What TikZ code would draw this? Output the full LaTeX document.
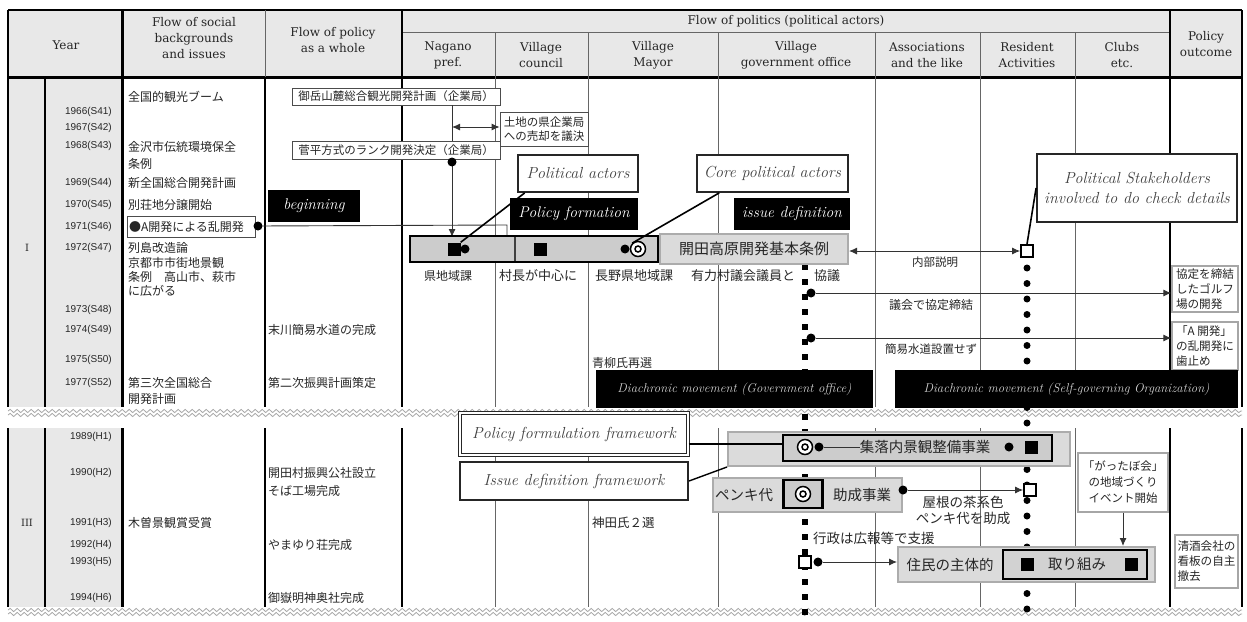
\documentclass[tikz,border=0pt]{standalone}
\usepackage{fontspec}
\newfontfamily\jp{Noto Sans CJK JP}
\newfontfamily\yrf{Liberation Sans}
\newfontfamily\hdf{DejaVu Serif}
\usetikzlibrary{arrows.meta,decorations.pathmorphing,calc}
\tikzset{
 hdr/.style={font=\hdf\fontsize{12}{16}\selectfont, align=center, inner sep=0, text=black!85},
 jt/.style={font=\jp\fontsize{12}{15}\selectfont, inner sep=0, anchor=west, text=black!85},
 jb/.style={font=\jp\fontsize{14.5}{16}\selectfont, inner sep=0, text=black!85},
 yr/.style={font=\yrf\fontsize{10}{11}\selectfont, inner sep=0, anchor=east, text=black!85},
 callout/.style={draw=black!85, line width=1.8, fill=white, font=\itshape\fontsize{16}{20}\selectfont, text=black!75, inner sep=0, align=center},
 blk/.style={fill=black, text=white, font=\itshape\fontsize{15.5}{17}\selectfont, inner sep=0},
 dia/.style={fill=black, text=gray!35, font=\itshape\fontsize{12.8}{14}\selectfont, inner sep=0},
 pbox/.style={draw=black!70, line width=0.8, fill=white, font=\jp\fontsize{11.5}{14}\selectfont, inner sep=0, align=center, text=black!85},
 obox/.style={draw=gray!70, line width=1.2, fill=white, font=\jp\fontsize{11.6}{15}\selectfont, inner sep=0, align=left, text=black!85},
 gbox/.style={draw=gray!65, line width=2, fill=gray!28, inner sep=0},
 kbox/.style={draw=black, line width=2.4, fill=gray!40, inner sep=0},
 bsq/.style={fill=black, minimum size=12, inner sep=0},
 wsq/.style={draw=black, line width=1.8, fill=white, minimum size=12, inner sep=0},
 bdot/.style={circle, fill=black, minimum size=9, inner sep=0},
 ring/.style={circle, draw=black, line width=1.5, fill=white, minimum size=15, inner sep=0},
 ringin/.style={circle, draw=black, line width=1.5, minimum size=6, inner sep=0},
 conn/.style={line width=0.9, black!80},
 arr/.style={conn, -{Latex[length=8,width=7]}},
 darr/.style={conn, {Latex[length=8,width=7]}-{Latex[length=8,width=7]}},
 tl/.style={line width=0.7, black!60},
 thk/.style={line width=2.2, black},
 rlab/.style={font=\jp\fontsize{13}{15}\selectfont, inner sep=0, text=black!85},
 wav/.style={gray!70, line width=0.8, decorate, decoration={snake, amplitude=1.6, segment length=7}},
}
\begin{document}
\begin{tikzpicture}[x=1pt,y=-1pt]
\useasboundingbox (0,0) rectangle (1247,621);
% ---------- table backgrounds
\fill[gray!18] (8,10) rectangle (1242,77);
\fill[gray!18] (8,77) rectangle (122,407);
\fill[gray!18] (8,428) rectangle (122,607);
% ---------- header lines
\draw[thk] (8,10) -- (1242,10);
\draw[line width=3] (8,77) -- (1242,77);
\draw[tl] (402,32) -- (1170,32);
\draw[thk] (8,10) -- (8,77);
\draw[line width=3] (122,10) -- (122,77);
\draw[tl] (265,10) -- (265,77);
\draw[thk] (402,10) -- (402,77);
\foreach \x in {495,588,718,875,980,1075} \draw[tl] (\x,32) -- (\x,77);
\draw[thk] (1170,10) -- (1170,77);
\draw[thk] (1242,10) -- (1242,77);
% ---------- body lines
\foreach \ya/\yb in {77/407,428/607}{
  \draw[thk] (8,\ya) -- (8,\yb);
  \draw[thk] (45,\ya) -- (45,\yb);
  \draw[line width=3] (122,\ya) -- (122,\yb);
  \draw[line width=1.6] (265,\ya) -- (265,\yb);
  \draw[line width=1.8] (402,\ya) -- (402,\yb);
  \foreach \x in {495,588,718,875,980,1075} \draw[tl] (\x,\ya) -- (\x,\yb);
  \draw[thk] (1170,\ya) -- (1170,\yb);
  \draw[thk] (1242,\ya) -- (1242,\yb);
}
\draw[wav] (8,411) -- (1242,411);
\draw[wav] (8,415) -- (1242,415);
\draw[wav] (8,610) -- (1242,610);
\draw[wav] (8,614) -- (1242,614);
% ---------- header texts
\node[hdr] (hY) at (66,45) {Year};
\node[hdr] (hS) at (194,38) {Flow of social\\backgrounds\\and issues};
\node[hdr] (hP) at (333,40) {Flow of policy\\as a whole};
\node[hdr] (hF) at (786,21) {Flow of politics (political actors)};
\node[hdr] (hN) at (448,55) {Nagano\\pref.};
\node[hdr] (hC) at (541,55) {Village\\council};
\node[hdr] (hM) at (653,55) {Village\\Mayor};
\node[hdr] (hG) at (796,55) {Village\\government office};
\node[hdr] (hA) at (927,55) {Associations\\and the like};
\node[hdr] (hR) at (1027,55) {Resident\\Activities};
\node[hdr] (hCl) at (1122,55) {Clubs\\etc.};
\node[hdr] (hO) at (1206,44) {Policy\\outcome};
% ---------- periods and years
\node[hdr, font=\hdf\fontsize{10}{11}\selectfont] (pI) at (27,248) {I};
\node[hdr, font=\hdf\fontsize{10}{11}\selectfont] (pIII) at (27,523) {III};
\node[yr] (y1) at (112,112) {1966(S41)};
\node[yr] (y2) at (112,128) {1967(S42)};
\node[yr] (y3) at (112,146) {1968(S43)};
\node[yr] (y4) at (112,183) {1969(S44)};
\node[yr] (y5) at (112,205) {1970(S45)};
\node[yr] (y6) at (112,227) {1971(S46)};
\node[yr] (y7) at (112,248) {1972(S47)};
\node[yr] (y8) at (112,310) {1973(S48)};
\node[yr] (y9) at (112,330) {1974(S49)};
\node[yr] (y10) at (112,360) {1975(S50)};
\node[yr] (y11) at (112,383) {1977(S52)};
\node[yr] (y12) at (112,437) {1989(H1)};
\node[yr] (y13) at (112,473) {1990(H2)};
\node[yr] (y14) at (112,523) {1991(H3)};
\node[yr] (y15) at (112,545) {1992(H4)};
\node[yr] (y16) at (112,562) {1993(H5)};
\node[yr] (y17) at (112,598) {1994(H6)};
% ---------- social backgrounds column
\node[jt] (s1) at (128,97) {全国的観光ブーム};
\node[jt] (s2) at (128,147) {金沢市伝統環境保全};
\node[jt] (s3) at (128,164) {条例};
\node[jt] (s4) at (128,183) {新全国総合開発計画};
\node[jt] (s5) at (128,205) {別荘地分譲開始};
\node[pbox, font=\jp\fontsize{12}{14}\selectfont, minimum width=128, minimum height=21, text width=124, align=left] (sA) at (191,227) {●A開発による乱開発};
\node[jt] (s6) at (128,248) {列島改造論};
\node[jt] (s7) at (128,263) {京都市市街地景観};
\node[jt] (s8) at (128,277) {条例\quad 高山市、萩市};
\node[jt] (s9) at (128,291) {に広がる};
\node[jt] (s10) at (128,383) {第三次全国総合};
\node[jt] (s11) at (128,399) {開発計画};
\node[jt] (s12) at (128,523) {木曽景観賞受賞};
% ---------- policy column
\node[jt] (p1) at (268,330) {末川簡易水道の完成};
\node[jt] (p2) at (268,383) {第二次振興計画策定};
\node[jt] (p3) at (268,473) {開田村振興公社設立};
\node[jt] (p4) at (268,491) {そば工場完成};
\node[jt] (p5) at (268,545) {やまゆり荘完成};
\node[jt] (p6) at (268,598) {御嶽明神奥社完成};
% ---------- dotted actor lines
\draw[line width=6, dash pattern=on 6 off 9] (805,264) -- (805,620);
\draw[line width=7, line cap=round, dash pattern=on 0 off 15.5, black] (1027,268) -- (1027,612);
% ---------- upper policy boxes and connectors
\node[pbox, minimum width=208, minimum height=17] (b1) at (396,96.5) {御岳山麓総合観光開発計画（企業局）};
\coordinate (v1) at (452,105);
\coordinate (v1e) at (452,237);
\draw[arr] (v1) -- (v1e);
\node[pbox, minimum width=208, minimum height=18] (b3) at (396,150) {菅平方式のランク開発決定（企業局）};
\node[bdot] (d0) at (452,162) {};
\node[pbox, minimum width=88, minimum height=34] (b2) at (544,129.5) {土地の県企業局\\への売却を議決};
\coordinate (ha) at (452,127);
\draw[darr] (ha) -- (ha -| b2.west);
\node[bdot] (dA) at (258,226) {};
\coordinate (bend1) at (507,225);
\coordinate (tip1) at (507,247);
\draw[arr] (dA) -- (bend1) -- (tip1);
% ---------- black labels
\node[blk, minimum width=92, minimum height=32] (beg) at (314,206) {beginning};
\node[blk, minimum width=128, minimum height=32] (pf) at (574,214) {Policy formation};
\node[blk, minimum width=116, minimum height=32] (idf) at (792,214) {issue definition};
% ---------- grey bar of policy formation
\node[kbox, minimum width=248, minimum height=26] (gL) at (534,249) {};
\draw[line width=1.2, black!75] (515,237) -- (515,261);
\node[gbox, minimum width=188, minimum height=30, font=\jp\fontsize{15}{16}\selectfont, text=black!85] (gR) at (754,249) {開田高原開発基本条例};
\node[bsq, minimum size=13] (sqA) at (454,249) {};
\node[bdot] (dsA) at (465,249) {};
\node[bsq, minimum size=13] (sqB) at (540,249) {};
\node[bdot] (dsC) at (625,249) {};
\node[ring] (rC) at (638,249) {};
\node[ringin] (rCi) at (638,249) {};
% ---------- callouts
\node[callout, minimum width=120, minimum height=37] (PA) at (578,173.5) {Political actors};
\node[callout, minimum width=151, minimum height=37] (CPA) at (772.5,173.5) {Core political actors};
\node[callout, minimum width=200, minimum height=68] (PS) at (1137,188) {Political Stakeholders\\involved to do check details};
\draw[line width=1.6] (PA.200) -- (sqA.north east);
\draw[line width=1.6] (CPA.200) -- (rC.north west);
\node[wsq] (osq) at (1027,251) {};
\draw[line width=1.6] (PS.west) -- (osq.north);
\draw[darr] (gR.east |- osq) -- (osq.west);
\node[rlab, font=\jp\fontsize{11.5}{14}\selectfont] (l1) at (935,262) {内部説明};
% ---------- row labels under bar
\node[rlab, font=\jp\fontsize{12}{14}\selectfont] (r1) at (448,276) {県地域課};
\node[rlab] (r2) at (538,276) {村長が中心に};
\node[rlab] (r3) at (634,276) {長野県地域課};
\node[rlab] (r4) at (743,276) {有力村議会議員と};
\node[rlab] (r5) at (827,276) {協議};
% ---------- outcomes part I
\node[obox, minimum width=66, minimum height=46] (O1) at (1205,289) {協定を締結\\したゴルフ\\場の開発};
\node[obox, minimum width=66, minimum height=48] (O2) at (1205,346) {「A 開発」\\の乱開発に\\歯止め};
\node[bdot] (e1) at (811,293) {};
\node[bdot] (e2) at (811,338) {};
\draw[arr] (e1) -- (e1 -| O1.west);
\draw[arr] (e2) -- (e2 -| O2.west);
\node[rlab, font=\jp\fontsize{12}{14}\selectfont] (l2) at (931,305) {議会で協定締結};
\node[rlab, font=\jp\fontsize{11.5}{14}\selectfont] (l3) at (931,349) {簡易水道設置せず};
\node[jt] (m1) at (592,363) {青柳氏再選};
\node[dia, minimum width=277, minimum height=38] (DG) at (734.5,389) {Diachronic movement (Government office)};
\node[dia, minimum width=343, minimum height=38] (DS) at (1066.5,389) {Diachronic movement (Self-governing Organization)};
% ---------- part III frameworks
\node[callout, double, double distance=2, line width=1.3, minimum width=228, minimum height=42] (PFF) at (574,434) {Policy formulation framework};
\node[callout, line width=2, minimum width=228, minimum height=38] (IDF) at (574,481) {Issue definition framework};
\node[gbox, minimum width=342, minimum height=34] (SB) at (899,449) {};
\node[kbox, minimum width=269, minimum height=26] (SBi) at (917.5,448) {};
\draw[line width=1.4] (PFF.-5) -- (PFF.-5 -| SBi.west);
\draw[line width=1.4] (IDF.east) -- (SB.south west);
\node[jb] (tSB) at (925,447) {集落内景観整備事業};
\node[ring] (rS) at (805,447) {};
\node[ringin] (rSi) at (805,447) {};
\node[bdot] (dS1) at (819,447) {};
\draw[conn] (dS1) -- (tSB.west);
\node[bdot] (dS2) at (1009,447) {};
\node[bsq, minimum size=13] (sqS) at (1031,447) {};
% ---------- paint subsidy
\node[gbox, minimum width=189, minimum height=34] (PK) at (807.5,495) {};
\node[jb] (tPK1) at (744,495) {ペンキ代};
\node[draw=black, line width=2.4, fill=gray!40, minimum width=39, minimum height=28, inner sep=0] (PKs) at (803,494) {};
\node[ring] (rP) at (803,494) {};
\node[ringin] (rPi) at (803,494) {};
\node[jb] (tPK2) at (862,495) {助成事業};
\node[bdot] (dP) at (903,490) {};
\node[wsq] (osq2) at (1030,490) {};
\draw[arr] (dP) -- (osq2.west);
\node[rlab, align=center, font=\jp\fontsize{13.5}{16}\selectfont] (l4) at (963,510) {屋根の茶系色\\ペンキ代を助成};
\node[jt, font=\jp\fontsize{13.5}{15}\selectfont] (l5) at (813,538) {行政は広報等で支援};
\node[jt, font=\jp\fontsize{12.5}{15}\selectfont] (m2) at (592,523) {神田氏２選};
% ---------- residents
\node[gbox, minimum width=257, minimum height=35] (JU) at (1026.5,564.5) {};
\node[jb] (tJU) at (950,565) {住民の主体的};
\node[kbox, minimum width=144, minimum height=29, fill=gray!35] (JUi) at (1075,564.5) {};
\node[bsq, minimum size=13] (sqJ1) at (1027,564) {};
\node[jb] (tJU2) at (1077,564) {取り組み};
\node[bsq, minimum size=13] (sqJ2) at (1131,564) {};
\node[wsq] (osq3) at (805,562) {};
\node[bdot] (dJ) at (818,562) {};
\draw[arr] (dJ) -- (JU.west |- dJ);
\node[obox, align=center, font=\jp\fontsize{11.5}{16}\selectfont, minimum width=90, minimum height=59] (GB) at (1123,482.5) {「がったぼ会」\\の地域づくり\\イベント開始};
\draw[arr] (GB.south) -- (GB.south |- JU.north);
\node[obox, font=\jp\fontsize{11.6}{15}\selectfont, minimum width=63, minimum height=53] (O3) at (1206.5,561.5) {清酒会社の\\看板の自主\\撤去};
\end{tikzpicture}
\end{document}
